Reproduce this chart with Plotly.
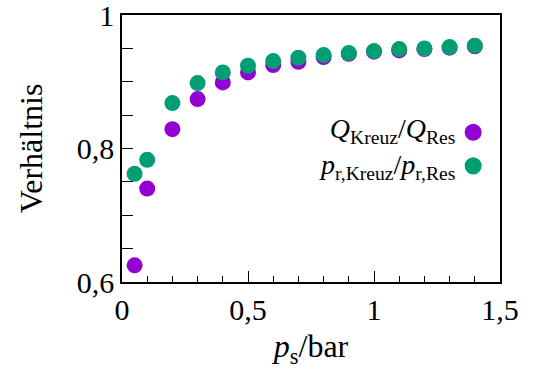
import plotly.graph_objects as go

ps = [0.05, 0.1, 0.2, 0.3, 0.4, 0.5, 0.6, 0.7, 0.8, 0.9, 1.0, 1.1, 1.2, 1.3, 1.4]
q_ratio = [0.625, 0.740, 0.829, 0.874, 0.899, 0.914, 0.925, 0.930, 0.937, 0.942, 0.945, 0.947, 0.949, 0.951, 0.953]
p_ratio = [0.762, 0.783, 0.868, 0.898, 0.914, 0.924, 0.931, 0.936, 0.940, 0.943, 0.946, 0.949, 0.950, 0.952, 0.954]

x_tickvals = [0, 0.5, 1, 1.5]
x_ticktext = ["0", "0,5", "1", "1,5"]
y_tickvals = [0.6, 0.8, 1.0]
y_ticktext = ["0,6", "0,8", "1"]

label_q = "<i>Q</i><sub>Kreuz</sub>/<i>Q</i><sub>Res</sub>"
label_p = "<i>p</i><sub>r,Kreuz</sub>/<i>p</i><sub>r,Res</sub>"

purple = "#9400D3"
green = "#009E73"
FONT = "Liberation Serif"

fig = go.Figure()
fig.add_trace(go.Scatter(x=ps, y=q_ratio, mode="markers", name=label_q,
                         marker=dict(color=purple, size=16, line=dict(width=0))))
fig.add_trace(go.Scatter(x=ps, y=p_ratio, mode="markers", name=label_p,
                         marker=dict(color=green, size=16, line=dict(width=0))))

# legend: right-aligned text block with symbols on the right
fig.add_annotation(xref="paper", yref="paper", x=0.885, y=0.50,
                   text=label_q + "<br>" + label_p,
                   showarrow=False, xanchor="right", yanchor="middle", align="right",
                   font=dict(family=FONT, size=28, color="black"))
for yc, col in [(0.561, purple), (0.435, green)]:
    fig.add_shape(type="circle", xref="paper", yref="paper",
                  x0=0.929 - 0.0225, x1=0.929 + 0.0225,
                  y0=yc - 0.032, y1=yc + 0.032,
                  fillcolor=col, line=dict(width=0))

fig.update_layout(
    width=535, height=369,
    margin=dict(l=122, r=35, t=15, b=87),
    paper_bgcolor="white", plot_bgcolor="white",
    showlegend=False,
    font=dict(family=FONT, size=30, color="black"),
    xaxis=dict(range=[0, 1.5], tickmode="array", tickvals=x_tickvals, ticktext=x_ticktext,
               ticks="inside", ticklen=11, tickwidth=1, tickcolor="black",
               ticklabeloverflow="allow", automargin=False,
               minor=dict(tickmode="array", tickvals=[0.1, 0.2, 0.3, 0.4, 0.6, 0.7, 0.8, 0.9, 1.1, 1.2, 1.3, 1.4],
                          ticks="inside", ticklen=6, tickcolor="black", tickwidth=1),
               showline=True, linecolor="black", linewidth=1.5, mirror=True,
               showgrid=False, zeroline=False,
               title=dict(text="<i>p</i><sub>s</sub>/bar", font=dict(size=32), standoff=11)),
    yaxis=dict(range=[0.6, 1.0], tickmode="array", tickvals=y_tickvals, ticktext=y_ticktext,
               ticks="inside", ticklen=11, tickwidth=1, tickcolor="black",
               ticklabeloverflow="allow", automargin=False,
               minor=dict(tickmode="array", tickvals=[0.65, 0.7, 0.75, 0.85, 0.9, 0.95],
                          ticks="inside", ticklen=11, tickcolor="black", tickwidth=1),
               showline=True, linecolor="black", linewidth=1.5, mirror=True,
               showgrid=False, zeroline=False,
               title=dict(text="Verhältnis", font=dict(size=32), standoff=25)),
)

fig.write_html("out.html")
